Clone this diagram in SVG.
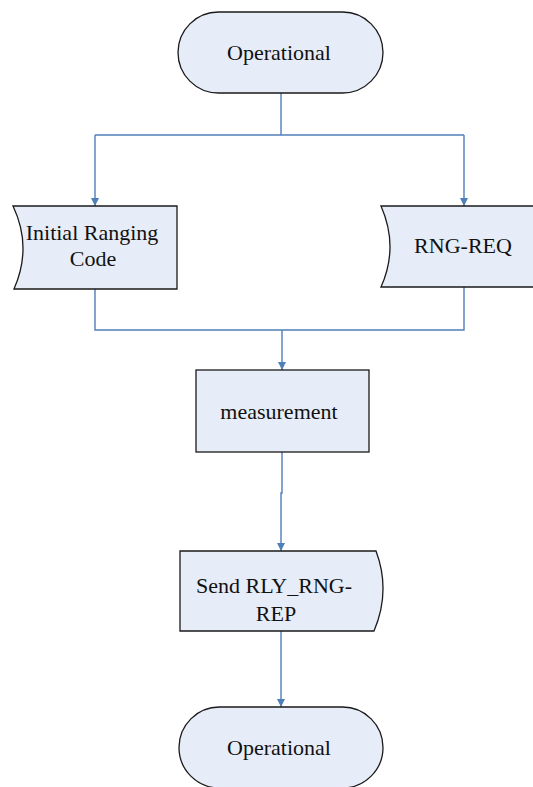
<svg xmlns="http://www.w3.org/2000/svg" width="533" height="787" viewBox="0 0 533 787">
<style>
.node{fill:#e7edf8;stroke:#1a1a1a;stroke-width:1.3}
.lbl{font-family:"Liberation Serif","Times New Roman",serif;font-size:22px;fill:#111;text-anchor:middle}
.conn{fill:none;stroke:#4f7fb8;stroke-width:1.4}
</style>
<defs>
<marker id="ah" viewBox="0 0 10 10" refX="10" refY="5" markerWidth="8" markerHeight="8" markerUnits="userSpaceOnUse" orient="auto">
<path d="M0,0 L10,5 L0,10 Z" fill="#4f7fb8"/>
</marker>
</defs>
<rect width="533" height="787" fill="#ffffff"/>
<g id="connectors">
<path class="conn" d="M281,93 V135"/>
<path class="conn" d="M95,135 H464"/>
<path class="conn" d="M95,135 V206" marker-end="url(#ah)"/>
<path class="conn" d="M464,135 V206" marker-end="url(#ah)"/>
<path class="conn" d="M95,289 V330 H464 V287"/>
<path class="conn" d="M282,330 V370" marker-end="url(#ah)"/>
<path class="conn" d="M282,452 V493 H281 V551" marker-end="url(#ah)"/>
<path class="conn" d="M281,631 V707" marker-end="url(#ah)"/>
</g>
<g id="start">
<rect class="node" x="178" y="12" width="205" height="81" rx="40.5" ry="40.5"/>
<text class="lbl" x="279" y="60">Operational</text>
</g>
<g id="initial-ranging-code">
<path class="node" d="M13,206 H177 V289 H14 Q32.5,247 13,206 Z"/>
<text class="lbl" x="92" y="240">Initial Ranging</text>
<text class="lbl" x="93" y="266">Code</text>
</g>
<g id="rng-req">
<path class="node" d="M381,206 H545 V287 H381 Q399,247 381,206 Z"/>
<text class="lbl" x="463" y="253">RNG-REQ</text>
</g>
<g id="measurement">
<rect class="node" x="196" y="370" width="173" height="82"/>
<text class="lbl" x="279" y="419">measurement</text>
</g>
<g id="send">
<path class="node" d="M180,551 H376 Q391,591 374,631 H180 Z"/>
<text class="lbl" x="274" y="593">Send RLY_RNG-</text>
<text class="lbl" x="276" y="621">REP</text>
</g>
<g id="end">
<rect class="node" x="179" y="707" width="204" height="81" rx="40.5" ry="40.5"/>
<text class="lbl" x="279" y="755">Operational</text>
</g>
</svg>
